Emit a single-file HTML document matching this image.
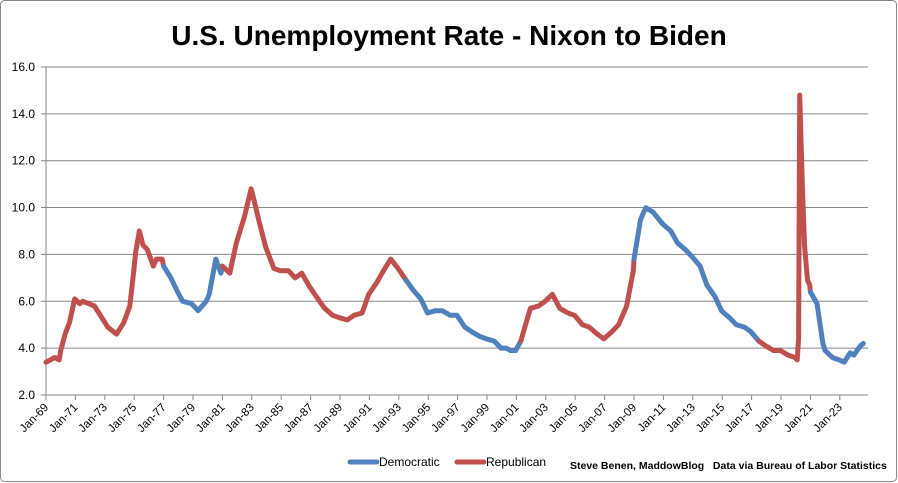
<!DOCTYPE html>
<html><head><meta charset="utf-8"><style>
body{margin:0;background:#fff}
svg{display:block;font-family:"Liberation Sans",sans-serif}
</style></head><body>
<svg id="s" width="898" height="483" viewBox="0 0 898 483" xmlns="http://www.w3.org/2000/svg">
<rect x="0.5" y="0.5" width="896" height="481" rx="4" fill="#fff" stroke="#878787"/>
<text x="449" y="45" text-anchor="middle" font-size="28" font-weight="bold" fill="#000">U.S. Unemployment Rate - Nixon to Biden</text>
<g id="grid" stroke="#868686" stroke-width="1"></g>
<g id="ylab" font-size="12" fill="#000" text-anchor="end"></g>
<g id="xlab" font-size="11.5" fill="#000" text-anchor="end"></g>
<g id="lines" fill="none" stroke-width="5" stroke-linejoin="round" stroke-linecap="round"></g>
<line x1="350" y1="462" x2="377" y2="462" stroke="#4F81BD" stroke-width="5" stroke-linecap="round"/>
<text x="379" y="466" font-size="12">Democratic</text>
<line x1="457" y1="462" x2="484" y2="462" stroke="#C0504D" stroke-width="5" stroke-linecap="round"/>
<text x="486" y="466" font-size="12">Republican</text>
<text x="570" y="469" font-size="10.5" font-weight="bold">Steve Benen, MaddowBlog &#160;&#160;Data via Bureau of Labor Statistics</text>
</svg>
<script>
var NS="http://www.w3.org/2000/svg";
function el(p,t,a,txt){var e=document.createElementNS(NS,t);for(var k in a)e.setAttribute(k,a[k]);if(txt)e.textContent=txt;document.getElementById(p).appendChild(e);return e;}
function X(y){return 46+(y-1969)*14.7;}
function Y(v){return 395-(v-2)*23.43;}
for(var v=2;v<=16;v+=2){var y=Y(v);el("grid","line",{x1:41,x2:868,y1:y,y2:y});el("ylab","text",{x:35,y:y+4},v.toFixed(1));}
el("grid","line",{x1:46,x2:46,y1:Y(16),y2:Y(2)});
for(var yr=1969;yr<=2023;yr+=2){var x=X(yr);el("grid","line",{x1:x,x2:x,y1:395,y2:400});
var lbl="Jan-"+String(yr%100).padStart(2,"0");el("xlab","text",{x:x+3,y:408,transform:"rotate(-45 "+(x+3)+" 408)"},lbl);}
var d=[[1969,3.4],[1969.3,3.5],[1969.6,3.6],[1969.9,3.5],[1970,3.9],[1970.3,4.6],[1970.6,5.1],[1970.95,6.1],[1971.3,5.9],[1971.5,6.0],[1971.9,5.9],[1972.3,5.8],[1972.9,5.2],[1973.2,4.9],[1973.8,4.6],[1974.3,5.1],[1974.7,5.8],[1974.95,7.2],[1975.1,8.1],[1975.35,9.0],[1975.6,8.4],[1975.9,8.2],[1976.3,7.5],[1976.5,7.8],[1976.9,7.8],[1977,7.5],[1977.5,7.0],[1977.95,6.4],[1978.3,6.0],[1978.9,5.9],[1979.35,5.6],[1979.9,6.0],[1980.1,6.3],[1980.55,7.8],[1980.9,7.2],[1981,7.5],[1981.5,7.2],[1981.95,8.5],[1982.5,9.6],[1982.95,10.8],[1983.2,10.2],[1983.5,9.4],[1983.95,8.3],[1984.5,7.4],[1984.95,7.3],[1985.5,7.3],[1985.95,7.0],[1986.4,7.2],[1986.95,6.6],[1987.5,6.1],[1987.95,5.7],[1988.5,5.4],[1988.95,5.3],[1989.5,5.2],[1989.95,5.4],[1990.5,5.5],[1990.95,6.3],[1991.5,6.8],[1991.95,7.3],[1992.45,7.8],[1992.95,7.4],[1993.5,6.9],[1993.95,6.5],[1994.5,6.1],[1994.95,5.5],[1995.5,5.6],[1995.95,5.6],[1996.5,5.4],[1996.95,5.4],[1997.5,4.9],[1997.95,4.7],[1998.5,4.5],[1998.95,4.4],[1999.5,4.3],[1999.95,4.0],[2000.3,4.0],[2000.6,3.9],[2000.95,3.9],[2001.3,4.3],[2001.95,5.7],[2002.5,5.8],[2002.95,6.0],[2003.45,6.3],[2003.95,5.7],[2004.5,5.5],[2004.95,5.4],[2005.5,5.0],[2005.95,4.9],[2006.5,4.6],[2006.95,4.4],[2007.5,4.7],[2007.95,5.0],[2008.5,5.8],[2008.95,7.3],[2009,7.8],[2009.45,9.5],[2009.8,10.0],[2010.3,9.8],[2010.95,9.3],[2011.5,9.0],[2011.95,8.5],[2012.5,8.2],[2012.95,7.9],[2013.5,7.5],[2013.95,6.7],[2014.5,6.2],[2014.95,5.6],[2015.5,5.3],[2015.95,5.0],[2016.5,4.9],[2016.95,4.7],[2017.5,4.3],[2017.95,4.1],[2018.5,3.9],[2018.95,3.9],[2019.5,3.7],[2019.95,3.6],[2020.1,3.5],[2020.2,4.4],[2020.27,14.8],[2020.35,13.2],[2020.45,11.0],[2020.6,8.4],[2020.8,6.9],[2020.95,6.7],[2021,6.4],[2021.45,5.9],[2021.85,4.2],[2022,3.9],[2022.5,3.6],[2022.95,3.5],[2023.3,3.4],[2023.7,3.8],[2023.95,3.7],[2024.4,4.1],[2024.6,4.2]];
var bounds=[1969,1977,1981,1993,2001,2009,2017,2021,2030];
function party(y){for(var i=0;i<bounds.length-1;i++)if(y>=bounds[i]&&y<bounds[i+1])return i%2==0?"R":"D";return "D";}
var segs=[],cur=null,cp=null;
for(var i=0;i<d.length;i++){var p=party(d[i][0]);var pt=X(d[i][0]).toFixed(1)+","+Y(d[i][1]).toFixed(1);
if(p!==cp){if(cur){cur.pts.push(pt);}cur={p:p,pts:[]};segs.push(cur);cp=p;}cur.pts.push(pt);}
segs.forEach(function(s){el("lines","polyline",{points:s.pts.join(" "),stroke:s.p=="R"?"#C0504D":"#4F81BD"});});
</script>
</body></html>
